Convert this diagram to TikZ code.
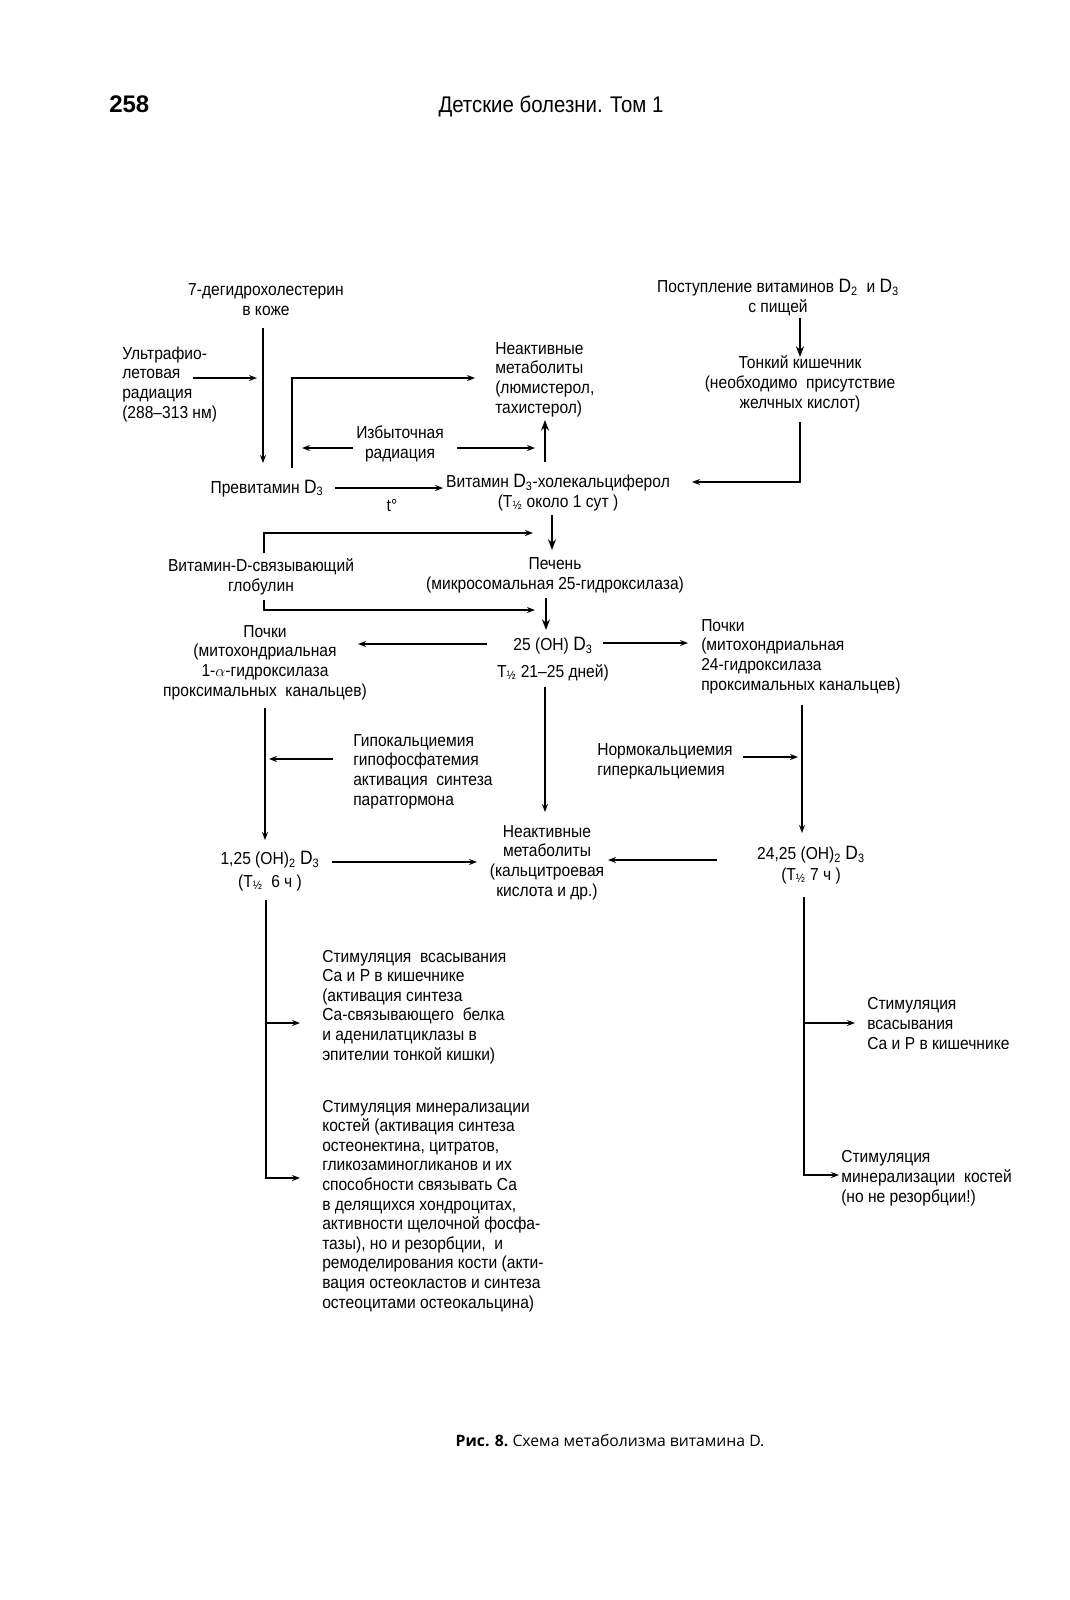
\documentclass[tikz,border=0pt]{standalone}
\usepackage{fontspec}
\setmainfont{Liberation Sans}[FakeStretch=0.9]
\newfontfamily\hdrfont{Liberation Sans}
\newfontfamily\capfont{Open Sans}
\usetikzlibrary{arrows.meta,calc}
\newcommand\bigD{{\fontsize{14.5}{15}\selectfont D}}
\begin{document}
\begin{tikzpicture}[x=0.75pt,y=-0.75pt,
  lbl/.style={inner sep=0pt, font=\fontsize{13}{14.7}\selectfont},
  lc/.style={lbl, align=center, anchor=base},
  ll/.style={lbl, align=left, anchor=base west},
  arr/.style={line width=1.1pt, -{Stealth[length=6pt,width=4.5pt]}},
  arrb/.style={line width=1.3pt, -{Stealth[length=8pt,width=6pt]}}]
\fill[white] (0,0) rectangle (1070,1600);
\useasboundingbox (0,0) rectangle (1070,1600);
% header
\node[lbl, font=\fontsize{18}{20}\selectfont\hdrfont\bfseries, anchor=base west] (pg) at (109,112) {258};
\node[lbl, font=\fontsize{17}{20}\selectfont, anchor=base] (hd) at (551,112) {Детские болезни. Том 1};
% nodes (anchor = baseline of the last line)
\node[lc] (dhc) at (266,315) {7-дегидрохолестерин\\в коже};
\node[ll] (uv) at (122,418) {Ультрафио-\\летовая\\радиация\\(288–313 нм)};
\node[ll] (nm1) at (495,413) {Неактивные\\метаболиты\\(люмистерол,\\тахистерол)};
\node[lc] (izb) at (400,458) {Избыточная\\радиация};
\node[lbl, anchor=base] (prev) at (267,493) {Превитамин \bigD\textsubscript{3}};
\node[lbl, anchor=base] (td) at (392,511) {t°};
\node[lc] (vit) at (558,507) {Витамин \bigD\textsubscript{3}-холекальциферол\\(T\textsubscript{½} около 1 сут )};
\node[lc] (post) at (778,312) {Поступление витаминов \bigD\textsubscript{2}\ \ и \bigD\textsubscript{3}\\с пищей};
\node[lc] (tonk) at (800,408) {Тонкий кишечник\\(необходимо\ \ присутствие\\желчных кислот)};
\node[lc] (glob) at (261,591) {Витамин-D-связывающий\\глобулин};
\node[lc] (pech) at (555,589) {Печень\\(микросомальная 25-гидроксилаза)};
\node[lc] (oh) at (553,677) {25 (OH) \bigD\textsubscript{3}\\[5pt]T\textsubscript{½} 21–25 дней)};
\node[lc] (pl) at (265,696) {Почки\\(митохондриальная\\1-$\alpha$-гидроксилаза\\проксимальных\ \ канальцев)};
\node[ll] (pr) at (701,690) {Почки\\(митохондриальная\\24-гидроксилаза\\проксимальных канальцев)};
\node[ll] (hypo) at (353,805) {Гипокальциемия\\гипофосфатемия\\активация\ \ синтеза\\паратгормона};
\node[ll] (normo) at (597,775) {Нормокальциемия\\гиперкальциемия};
\node[lc] (d1) at (270,887) {1,25 (OH)\textsubscript{2} \bigD\textsubscript{3}\\[2pt](T\textsubscript{½}\ \ 6 ч )};
\node[lc] (nm2) at (547,896) {Неактивные\\метаболиты\\(кальцитроевая\\кислота и др.)};
\node[lc] (d2) at (811,880) {24,25 (OH)\textsubscript{2} \bigD\textsubscript{3}\\[1pt](T\textsubscript{½} 7 ч )};
\node[ll] (s1) at (322,1060) {Стимуляция\ \ всасывания\\Са и Р в кишечнике\\(активация синтеза\\Са-связывающего\ \ белка\\и аденилатциклазы в\\эпителии тонкой кишки)};
\node[ll] (s2) at (322,1308) {Стимуляция минерализации\\костей (активация синтеза\\остеонектина, цитратов,\\гликозаминогликанов и их\\способности связывать Са\\в делящихся хондроцитах,\\активности щелочной фосфа-\\тазы), но и резорбции,\ \ и\\ремоделирования кости (акти-\\вация остеокластов и синтеза\\остеоцитами остеокальцина)};
\node[ll] (s3) at (867,1049) {Стимуляция\\всасывания\\Са и Р в кишечнике};
\node[ll] (s4) at (841,1202) {Стимуляция\\минерализации\ \ костей\\(но не резорбции!)};
\node[lbl, anchor=base] (cap) at (610,1446) {\capfont\fontsize{11.8}{14}\selectfont\bfseries Рис. 8.\mdseries\ Схема метаболизма витамина D.};
% connectors
\draw[arr] ($(dhc.base)+(-3,13)$) -- ($(prev.base)+(-4,-30)$);
\draw[arr] ($(uv.base west)+(71,-40)$) -- ($(dhc.base)+(-9,63)$);
\draw[arr] ($(prev.base)+(25,-25)$) |- ($(nm1.base west)+(-20,-35)$);
\draw[arr] ($(izb.base)+(-47,-10)$) -- ($(izb.base)+(-98,-10)$);
\draw[arr] ($(izb.base)+(57,-10)$) -- ($(izb.base)+(135,-10)$);
\draw[arrb] ($(vit.base)+(-13,-45)$) -- ($(nm1.base west)+(50,7)$);
\draw[arr] ($(prev.base)+(68,-5)$) -- ($(vit.base)+(-115,-19)$);
\draw[arrb] ($(post.base)+(22,6)$) -- ($(tonk.base)+(0,-51)$);
\draw[arr] ($(tonk.base)+(0,14)$) |- ($(vit.base)+(134,-25)$);
\draw[arrb] ($(vit.base)+(-6,8)$) -- ($(pech.base)+(-3,-39)$);
\draw[arr] ($(glob.base)+(3,-38)$) |- ($(pech.base)+(-22,-56)$);
\draw[arr] ($(glob.base)+(3,9)$) |- ($(pech.base)+(-20,21)$);
\draw[arrb] ($(pech.base)+(-9,9)$) -- ($(oh.base)+(-7,-47)$);
\draw[arr] ($(oh.base)+(-66,-33)$) -- ($(pl.base)+(93,-52)$);
\draw[arr] ($(oh.base)+(50,-34)$) -- ($(pr.base west)+(-13,-47)$);
\draw[arr] ($(oh.base)+(-8,10)$) -- ($(nm2.base)+(-2,-84)$);
\draw[arr] ($(pl.base)+(0,12)$) -- ($(d1.base)+(-5,-47)$);
\draw[arr] ($(hypo.base west)+(-20,-46)$) -- ($(hypo.base west)+(-84,-46)$);
\draw[arr] ($(normo.base west)+(146,-18)$) -- ($(normo.base west)+(201,-18)$);
\draw[arr] ($(pr.base west)+(101,15)$) -- ($(d2.base)+(-9,-47)$);
\draw[arr] ($(d1.base)+(62,-25)$) -- ($(nm2.base)+(-70,-34)$);
\draw[arr] ($(d2.base)+(-94,-20)$) -- ($(nm2.base)+(61,-36)$);
\coordinate (lb) at ($(d1.base)+(-4,13)$);
\draw[arr] (lb) |- ($(s2.base west)+(-22,-130)$);
\draw[arr] ($(s1.base west)+(-56,-37)$) -- ($(s1.base west)+(-22,-37)$);
\draw[arr] ($(d2.base)+(-7,17)$) |- ($(s4.base west)+(-2,-27)$);
\draw[arr] ($(s3.base west)+(-63,-26)$) -- ($(s3.base west)+(-12,-26)$);
\end{tikzpicture}
\end{document}
